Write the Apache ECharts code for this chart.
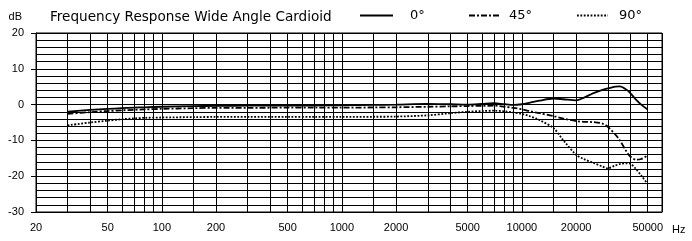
<!DOCTYPE html>
<html><head><meta charset="utf-8">
<script src="https://cdn.jsdelivr.net/npm/echarts@6/dist/echarts.min.js"></script>
<style>html,body{margin:0;padding:0;background:#fff}#c{width:692px;height:241px}</style>
</head><body><div id="c"></div>
<script>
const titleText = 'Frequency Response Wide Angle Cardioid';
const seriesNames = ['0°', '45°', '90°'];
const frequencies = [30, 40, 50, 60, 70, 80, 100, 150, 200, 300, 500, 700, 1000, 1500, 2000, 3000, 4000, 5000, 6000, 7000, 8000, 9000, 10000, 11000, 12500, 15000, 17000, 20000, 22000, 25000, 28000, 30000, 33000, 35000, 38000, 40000, 43000, 46000, 50000];
const response0 = [-2.0, -1.5, -1.2, -1.0, -0.85, -0.75, -0.6, -0.45, -0.35, -0.3, -0.25, -0.25, -0.2, -0.1, 0.0, 0.2, 0.1, 0.0, 0.2, 0.4, 0.1, -0.1, 0.1, 0.5, 1.1, 1.7, 1.5, 1.2, 1.9, 3.2, 4.1, 4.5, 5.0, 5.1, 4.2, 3.2, 1.4, 0.0, -1.4];
const response45 = [-2.6, -2.1, -1.8, -1.6, -1.45, -1.35, -1.2, -1.0, -0.9, -0.9, -0.85, -0.85, -0.85, -0.8, -0.75, -0.6, -0.5, -0.4, -0.35, -0.3, -0.6, -0.9, -1.3, -1.8, -2.4, -3.2, -3.9, -4.6, -4.8, -4.9, -5.3, -6.2, -8.3, -10.0, -13.0, -14.5, -15.4, -15.2, -14.2];
const response90 = [-5.8, -5.0, -4.5, -4.1, -3.85, -3.7, -3.6, -3.5, -3.45, -3.45, -3.45, -3.45, -3.45, -3.4, -3.35, -3.0, -2.4, -2.0, -1.8, -1.7, -1.9, -2.2, -2.6, -3.2, -4.3, -6.6, -10.0, -14.0, -15.2, -16.3, -17.3, -17.8, -17.0, -16.6, -16.4, -16.5, -18.0, -19.8, -22.2];
const gridFrequencies = [20, 30, 40, 50, 60, 70, 80, 90, 100, 150, 200, 300, 400, 500, 600, 700, 800, 900, 1000, 1500, 2000, 3000, 4000, 5000, 6000, 7000, 8000, 9000, 10000, 15000, 20000, 30000, 40000, 50000, 60000];
const labelFrequencies = [20, 50, 100, 200, 500, 1000, 2000, 5000, 10000, 20000, 50000];
const yMin = -30, yMax = 20, yStep = 10;

const INK = '#000';
const TXT = 'DejaVu Sans';
const NUM = 'Liberation Sans';
const zip = (xs, ys) => xs.map((x, i) => [x, ys[i]]);

const chart = echarts.init(document.getElementById('c'), null, {renderer: 'canvas'});

const lineStyles = [
  {color: INK, width: 1.8, type: 'solid'},
  {color: INK, width: 1.8, type: [6, 2, 2, 2]},
  {color: INK, width: 1.8, type: [1.8, 1.6]}
];
const values = [response0, response45, response90];

const legendPos = [{left: 359, w: 33, pad: 12}, {left: 468, w: 31, pad: 4}, {left: 576, w: 31, pad: 6}];

chart.setOption({
  animation: false,
  backgroundColor: '#fff',
  title: {
    text: titleText, left: 45, top: 5,
    textStyle: {fontFamily: TXT, fontSize: 13.6, fontWeight: 'normal', color: INK}
  },
  legend: seriesNames.map((n, i) => ({
    data: [n], left: legendPos[i].left, top: 9, padding: 0,
    itemWidth: legendPos[i].w, itemHeight: 12,
    itemStyle: {opacity: 0},
    textStyle: {fontFamily: TXT, fontSize: 13, color: INK, padding: [0, 0, 0, legendPos[i].pad]},
    selectedMode: false
  })),
  grid: {left: 36, right: 30, top: 33, bottom: 29, show: true, borderColor: INK, borderWidth: 1},
  xAxis: {
    type: 'log', logBase: 10, min: 20, max: 60000,
    name: 'Hz', nameLocation: 'end', nameGap: 10,
    nameTextStyle: {fontFamily: NUM, fontSize: 11, color: INK, verticalAlign: 'top', padding: [12, 0, 0, 0]},
    axisLine: {show: true, onZero: false, lineStyle: {color: INK, width: 1}},
    axisTick: {show: false}, axisLabel: {show: false}, splitLine: {show: false}, minorSplitLine: {show: false}
  },
  yAxis: {
    type: 'value', min: yMin, max: yMax, interval: yStep,
    name: 'dB', nameLocation: 'end', nameGap: 11,
    nameTextStyle: {fontFamily: NUM, fontSize: 11, color: INK, align: 'right', padding: [0, 14, 0, 0]},
    axisLine: {show: true, lineStyle: {color: INK, width: 1}},
    axisTick: {show: true, length: 5, lineStyle: {color: INK}},
    axisLabel: {fontFamily: NUM, fontSize: 11, color: INK, margin: 12},
    splitLine: {show: true, lineStyle: {color: INK, width: 1}},
    minorTick: {show: true, splitNumber: 5, length: 0, lineStyle: {width: 0}},
    minorSplitLine: {show: true, lineStyle: {color: INK, width: 1}}
  },
  series: [
    {
      name: 'grid', type: 'line', data: [[20, yMin]], symbol: 'none', silent: true, z: 1,
      lineStyle: {width: 0},
      markLine: {
        silent: true, symbol: 'none', animation: false,
        lineStyle: {color: INK, width: 1, type: 'solid'},
        label: {show: false},
        emphasis: {disabled: true},
        data: gridFrequencies.map(f => ({
          xAxis: f,
          label: {
            show: labelFrequencies.includes(f), position: 'start', distance: 10,
            formatter: String(f), fontFamily: NUM, fontSize: 11, color: INK
          }
        }))
      }
    }
  ].concat(seriesNames.map((n, i) => ({
    name: n, type: 'line', data: zip(frequencies, values[i]),
    symbol: 'none', smooth: 0.3, z: 3,
    lineStyle: lineStyles[i], itemStyle: {color: INK}
  })))
});
</script>
</body></html>
